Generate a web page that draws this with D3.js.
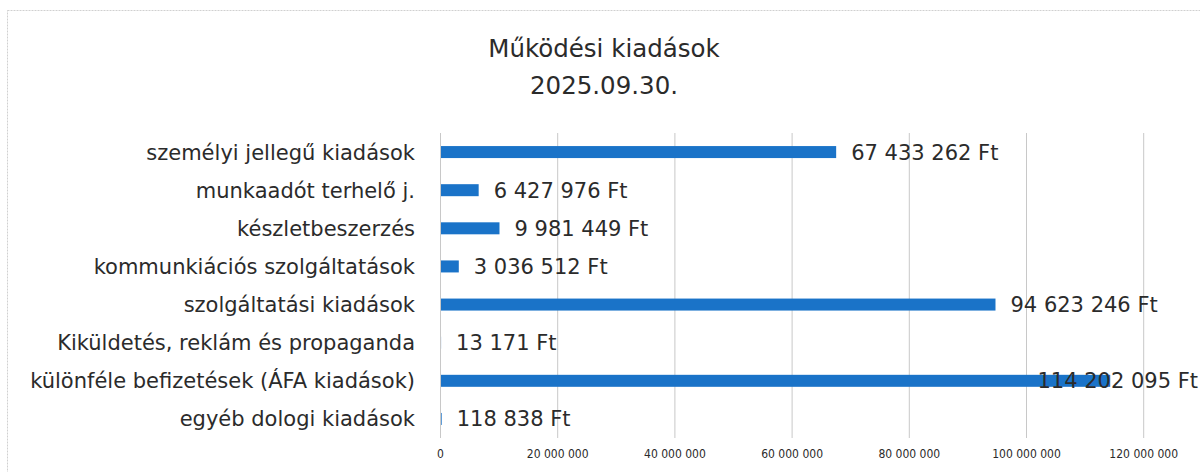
<!DOCTYPE html>
<html>
<head>
<meta charset="utf-8">
<script src="https://cdn.jsdelivr.net/npm/d3@7"></script>
<style>
  body { margin: 0; background: #fff; overflow: hidden; }
  text { font-family: "DejaVu Sans", sans-serif; fill: #2b2b2b; }
</style>
</head>
<body>
<div id="chart-area"></div>
<script>
// chart data
var categories = [
    "személyi jellegű kiadások",
    "munkaadót terhelő j.",
    "készletbeszerzés",
    "kommunkiációs szolgáltatások",
    "szolgáltatási kiadások",
    "Kiküldetés, reklám és propaganda",
    "különféle befizetések (ÁFA kiadások)",
    "egyéb dologi kiadások"
];
var values = [67433262, 6427976, 9981449, 3036512, 94623246, 13171, 114202095, 118838];
var valueLabels = ["67 433 262 Ft", "6 427 976 Ft", "9 981 449 Ft", "3 036 512 Ft",
    "94 623 246 Ft", "13 171 Ft", "114 202 095 Ft", "118 838 Ft"];
var tickValues = [0, 20000000, 40000000, 60000000, 80000000, 100000000, 120000000];
var titleLines = ["Működési kiadások", "2025.09.30."];

var width = 1200, height = 472;
var plotLeft = 440, plotTop = 133, plotBottom = 438;

var svg = d3.select("#chart-area").append("svg")
    .attr("width", width)
    .attr("height", height);

// outer frame
svg.append("rect")
    .attr("x", 7.5).attr("y", 10.5)
    .attr("width", 1200).attr("height", 470)
    .attr("fill", "none")
    .attr("stroke", "#d0d0d0")
    .attr("stroke-dasharray", "2,1");

var x = d3.scaleLinear()
    .domain([0, 140000000])
    .range([plotLeft, plotLeft + 7 * 117.2]);

var y = d3.scaleBand()
    .domain(categories)
    .range([plotTop, plotBottom]);

// title
svg.selectAll(".title")
    .data(titleLines)
    .enter()
    .append("text")
        .attr("class", "title")
        .attr("x", 604)
        .attr("y", function(d, i){ return 57 + i * 37; })
        .attr("text-anchor", "middle")
        .attr("font-size", 24.5)
        .text(function(d){ return d; });

// gridlines
svg.selectAll(".grid")
    .data(tickValues)
    .enter()
    .append("line")
        .attr("class", "grid")
        .attr("x1", function(d){ return x(d) + 0.5; })
        .attr("x2", function(d){ return x(d) + 0.5; })
        .attr("y1", plotTop)
        .attr("y2", plotBottom)
        .attr("stroke", "#c8c8c8")
        .attr("stroke-width", 1);

// x axis tick labels
var axis = d3.axisBottom(x)
    .tickValues(tickValues)
    .tickSize(0)
    .tickPadding(11)
    .tickFormat(function(d){ return d3.format(",")(d).replace(/,/g, " "); });
var axisG = svg.append("g")
    .attr("transform", "translate(0," + plotBottom + ")")
    .call(axis);
axisG.select(".domain").remove();
axisG.selectAll("text")
    .attr("font-size", 12)
    .style("font-family", "'DejaVu Sans Condensed', 'DejaVu Sans', sans-serif")
    .attr("fill", "#404040");

// category labels
svg.selectAll(".cat")
    .data(categories)
    .enter()
    .append("text")
        .attr("class", "cat")
        .attr("x", 415)
        .attr("y", function(d){ return y(d) + y.bandwidth() / 2; })
        .attr("dy", "0.36em")
        .attr("text-anchor", "end")
        .attr("font-size", 21)
        .text(function(d){ return d; });

// bars
svg.selectAll(".bar")
    .data(values)
    .enter()
    .append("rect")
        .attr("class", "bar")
        .attr("x", x(0) + 1)
        .attr("y", function(d, i){ return y(categories[i]) + y.bandwidth() / 2 - 6; })
        .attr("width", function(d){ return x(d) - x(0); })
        .attr("height", 12)
        .attr("fill", "#1a73c8");

// value labels, pulled back inside the frame when they would run off
svg.selectAll(".val")
    .data(values)
    .enter()
    .append("text")
        .attr("class", "val")
        .attr("x", function(d){ return x(d) + 16; })
        .attr("y", function(d, i){ return y(categories[i]) + y.bandwidth() / 2; })
        .attr("dy", "0.36em")
        .attr("font-size", 21)
        .text(function(d, i){ return valueLabels[i]; })
        .each(function(){
            var w = this.getComputedTextLength();
            var left = +d3.select(this).attr("x");
            if (left + w > width - 2) {
                d3.select(this).attr("x", width - 2 - w);
            }
        });
</script>
</body>
</html>
